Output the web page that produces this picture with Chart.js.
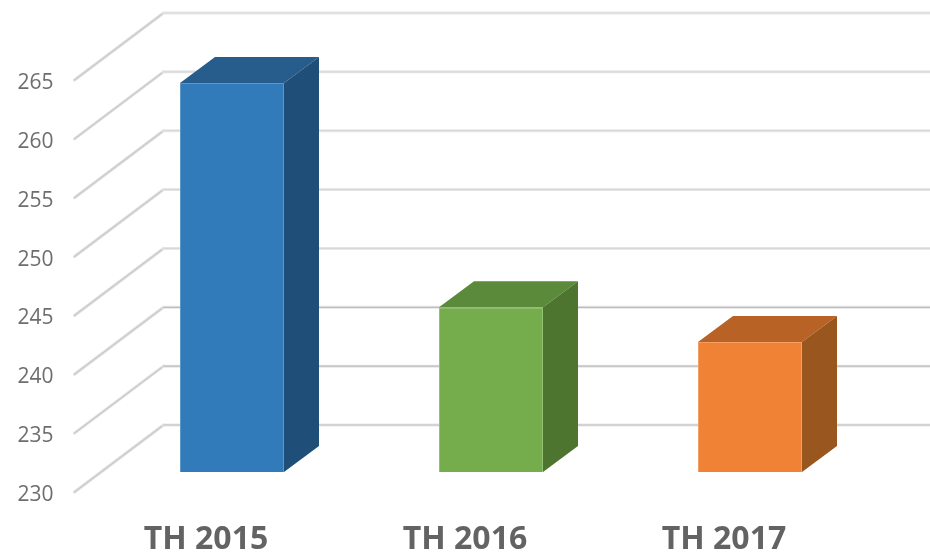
<!DOCTYPE html>
<html><head><meta charset="utf-8">
<style>html,body{margin:0;padding:0;background:#fff}canvas{display:block;filter:blur(0.45px)}</style>
<script src="https://cdn.jsdelivr.net/npm/chart.js@4"></script>
</head><body><canvas id="c" width="930" height="554"></canvas>
<script>
const categories = ['TH 2015', 'TH 2016', 'TH 2017'];
const values = [263.05, 244.0, 241.05];
const frontColors = ['#327bba', '#75ad4d', '#ef8235'];
const topColors = ['#275d8c', '#5b8a3a', '#b86225'];
const sideColors = ['#1f4e79', '#4e7530', '#9a561f'];
const edgeColors = ['#5d97c8', '#93c274', '#f4a064'];
const yMin = 230, yMax = 265, yStep = 5;

const WALL_DX = 89, WALL_DY = -67, BAR_DX = 35, BAR_DY = -26, BAR_LIFT = -20;

const box3d = {
  id: 'box3d',
  beforeDatasetsDraw(chart) {
    const { ctx, scales: { y }, chartArea: a } = chart;
    const x0 = a.left - 28;
    ctx.save();
    ctx.lineCap = 'round';
    y.ticks.forEach(t => {
      const py = y.getPixelForValue(t.value);
      const bx = x0 + WALL_DX, by = py + WALL_DY;
      // side wall
      ctx.strokeStyle = '#dedede'; ctx.lineWidth = 3;
      ctx.beginPath(); ctx.moveTo(x0, py); ctx.lineTo(bx, by); ctx.stroke();
      ctx.strokeStyle = '#c4c4c4'; ctx.lineWidth = 1;
      ctx.beginPath(); ctx.moveTo(x0, py); ctx.lineTo(bx, by); ctx.stroke();
      // back wall
      ctx.strokeStyle = '#e8e8e8'; ctx.lineWidth = 3;
      ctx.beginPath(); ctx.moveTo(bx, by); ctx.lineTo(chart.width, by); ctx.stroke();
      ctx.strokeStyle = t.value >= 245 ? '#d8d8d8' : '#bcbcbc'; ctx.lineWidth = 1.2;
      ctx.beginPath(); ctx.moveTo(bx, by); ctx.lineTo(chart.width, by); ctx.stroke();
    });
    ctx.restore();
  },
  beforeDatasetDraw(chart, args) {
    const { ctx } = chart;
    ctx.save();
    ctx.translate(0, BAR_LIFT);
    args.meta.data.forEach((bar, i) => {
      const l = bar.x - bar.width / 2, r = bar.x + bar.width / 2, t = bar.y, b = bar.base;
      ctx.fillStyle = topColors[i];
      ctx.beginPath();
      ctx.moveTo(l, t); ctx.lineTo(l + BAR_DX, t + BAR_DY); ctx.lineTo(r + BAR_DX, t + BAR_DY); ctx.lineTo(r, t);
      ctx.closePath(); ctx.fill();
      ctx.fillStyle = sideColors[i];
      ctx.beginPath();
      ctx.moveTo(r, t); ctx.lineTo(r + BAR_DX, t + BAR_DY); ctx.lineTo(r + BAR_DX, b + BAR_DY); ctx.lineTo(r, b);
      ctx.closePath(); ctx.fill();
    });
  },
  afterDatasetDraw(chart) { chart.ctx.restore(); }
};

new Chart(document.getElementById('c'), {
  type: 'bar',
  data: {
    labels: categories,
    datasets: [{
      data: values,
      base: yMin,
      backgroundColor: frontColors,
      borderColor: edgeColors,
      borderWidth: 1,
      barPercentage: 104 / 259,
      categoryPercentage: 1,
      clip: false
    }]
  },
  plugins: [box3d],
  options: {
    responsive: false,
    animation: false,
    layout: { padding: { top: 80, right: 50.5, left: 0, bottom: 0 } },
    plugins: { legend: { display: false }, tooltip: { enabled: false }, title: { display: false } },
    scales: {
      x: {
        grid: { display: false, drawTicks: false },
        border: { display: false },
        afterFit(s) { s.height = 62; },
        ticks: {
          padding: 29, labelOffset: -26, maxRotation: 0,
          color: '#636363',
          font: { family: '"Open Sans"', size: 32, weight: 'bold' }
        }
      },
      y: {
        min: yMin, max: yMax,
        grid: { display: false, drawTicks: false },
        border: { display: false },
        afterFit(s) { s.width = 102.5; },
        ticks: {
          stepSize: yStep, padding: 49, labelOffset: 3,
          color: '#6e6e6e',
          font: { family: '"Open Sans"', size: 21 }
        }
      }
    }
  }
});
</script></body></html>
